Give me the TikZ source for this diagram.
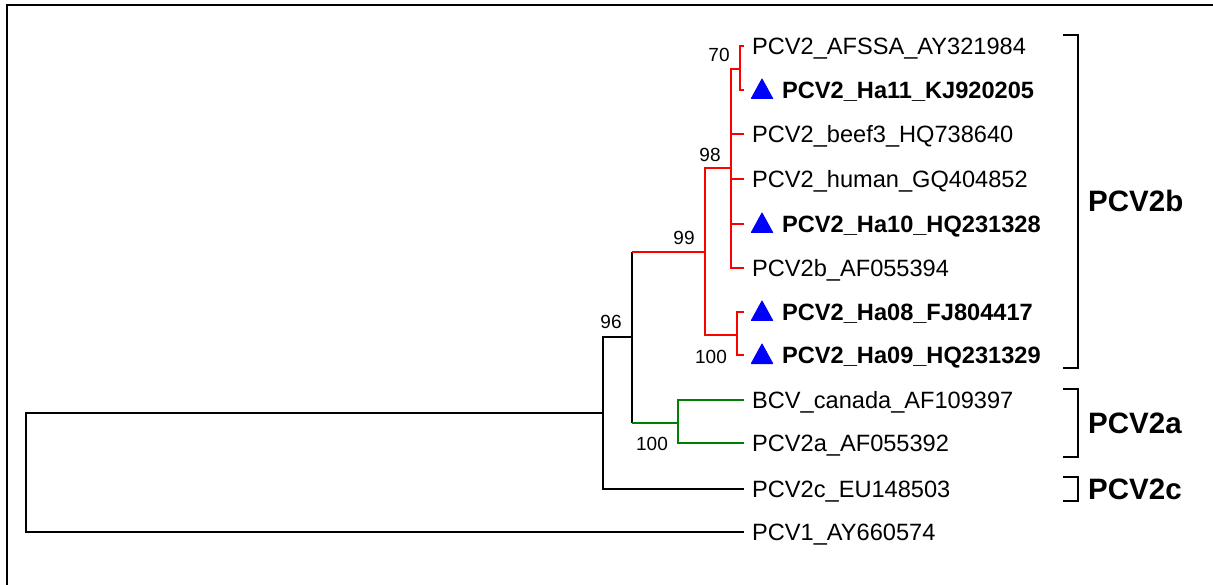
\documentclass[tikz,border=0pt]{standalone}
\usepackage{fontspec}
\setmainfont{Liberation Sans}
\definecolor{treered}{RGB}{255,0,0}
\definecolor{treegreen}{RGB}{0,128,0}
\begin{document}
\begin{tikzpicture}[x=1pt,y=-1pt,
  br/.style={line width=1.4pt},
  leaf/.style={anchor=base west, inner sep=0pt, font=\fontsize{23.6}{28}\selectfont},
  hleaf/.style={anchor=base west, inner sep=0pt, font=\fontsize{23.6}{28}\selectfont\bfseries},
  boot/.style={inner sep=0pt, font=\fontsize{19}{22}\selectfont},
  clade/.style={anchor=base west, inner sep=0pt, font=\fontsize{29.5}{34}\selectfont\bfseries},
  brk/.style={line width=1.7pt},
  tri/.style={fill=blue, rounded corners=0.8pt}]
\useasboundingbox (0,0) rectangle (1213,585);
\draw[line width=2pt] (1213,5) -- (7,5) -- (7,585);

% leaf tips
\coordinate (t1) at (744,46);
\coordinate (t2) at (744,90);
\coordinate (t3) at (744,134);
\coordinate (t4) at (744,179);
\coordinate (t5) at (744,224);
\coordinate (t6) at (744,268);
\coordinate (t7) at (744,312);
\coordinate (t8) at (744,355);
\coordinate (t9) at (744,400);
\coordinate (t10) at (744,443);
\coordinate (t11) at (744,489);
\coordinate (t12) at (744,532);

% internal nodes
\coordinate (R) at (26,473);
\coordinate (n96) at (603,413);
\coordinate (nA) at (632,337);
\coordinate (n99) at (705,252);
\coordinate (n98) at (731,168);
\coordinate (n70) at (740,69);
\coordinate (nr100) at (737,335);
\coordinate (ng100) at (678,423);

% black branches
\draw[br] (R) |- (n96);
\draw[br] (R) |- (t12);
\draw[br] (n96) |- (nA);
\draw[br] (n96) |- (t11);
\draw[br] (nA) -- (nA |- n99);
\draw[br] (nA) -- (nA |- ng100);

% red branches
\draw[br,treered] (nA |- n99) -- (n99);
\draw[br,treered] (n99) |- (n98);
\draw[br,treered] (n99) |- (nr100);
\draw[br,treered] (n98) |- (n70);
\draw[br,treered] (n98) |- (t3);
\draw[br,treered] (n98) |- (t4);
\draw[br,treered] (n98) |- (t5);
\draw[br,treered] (n98) |- (t6);
\draw[br,treered] (n70) |- (t1);
\draw[br,treered] (n70) |- (t2);
\draw[br,treered] (nr100) |- (t7);
\draw[br,treered] (nr100) |- (t8);

% green branches
\draw[br,treegreen] (nA |- ng100) -- (ng100);
\draw[br,treegreen] (ng100) |- (t9);
\draw[br,treegreen] (ng100) |- (t10);

% triangles
\fill[tri] (762,78) -- (773.5,99) -- (750.5,99) -- cycle;
\fill[tri] (762,212) -- (773.5,233) -- (750.5,233) -- cycle;
\fill[tri] (762,300) -- (773.5,321) -- (750.5,321) -- cycle;
\fill[tri] (762,343) -- (773.5,364) -- (750.5,364) -- cycle;

% leaf labels
\node[leaf]  (l1)  at (752,54.5)  {PCV2\_AFSSA\_AY321984};
\node[hleaf] (l2)  at (782,98.5)  {PCV2\_Ha11\_KJ920205};
\node[leaf]  (l3)  at (752,142.5) {PCV2\_beef3\_HQ738640};
\node[leaf]  (l4)  at (752,187.5) {PCV2\_human\_GQ404852};
\node[hleaf] (l5)  at (782,232.5) {PCV2\_Ha10\_HQ231328};
\node[leaf]  (l6)  at (752,276.5) {PCV2b\_AF055394};
\node[hleaf] (l7)  at (782,320.5) {PCV2\_Ha08\_FJ804417};
\node[hleaf] (l8)  at (782,363.5) {PCV2\_Ha09\_HQ231329};
\node[leaf]  (l9)  at (752,408.5) {BCV\_canada\_AF109397};
\node[leaf]  (l10) at (752,451.5) {PCV2a\_AF055392};
\node[leaf]  (l11) at (752,497.5) {PCV2c\_EU148503};
\node[leaf]  (l12) at (752,540.5) {PCV1\_AY660574};

% bootstrap values
\node[boot] (b70)  at (719,55)  {70};
\node[boot] (b98)  at (710,155) {98};
\node[boot] (b99)  at (684,238) {99};
\node[boot] (b96)  at (611,322) {96};
\node[boot] (b100r) at (711,357) {100};
\node[boot] (b100g) at (652,444) {100};

% clade brackets
\draw[brk] (1063,35) -- (1078,35) -- (1078,368) -- (1063,368);
\draw[brk] (1063,389) -- (1078,389) -- (1078,457) -- (1063,457);
\draw[brk] (1063,477) -- (1078,477) -- (1078,501) -- (1063,501);
\node[clade] (cb) at (1088,211.5) {PCV2b};
\node[clade] (ca) at (1088,433.5) {PCV2a};
\node[clade] (cc) at (1088,499.5) {PCV2c};
\end{tikzpicture}
\end{document}
